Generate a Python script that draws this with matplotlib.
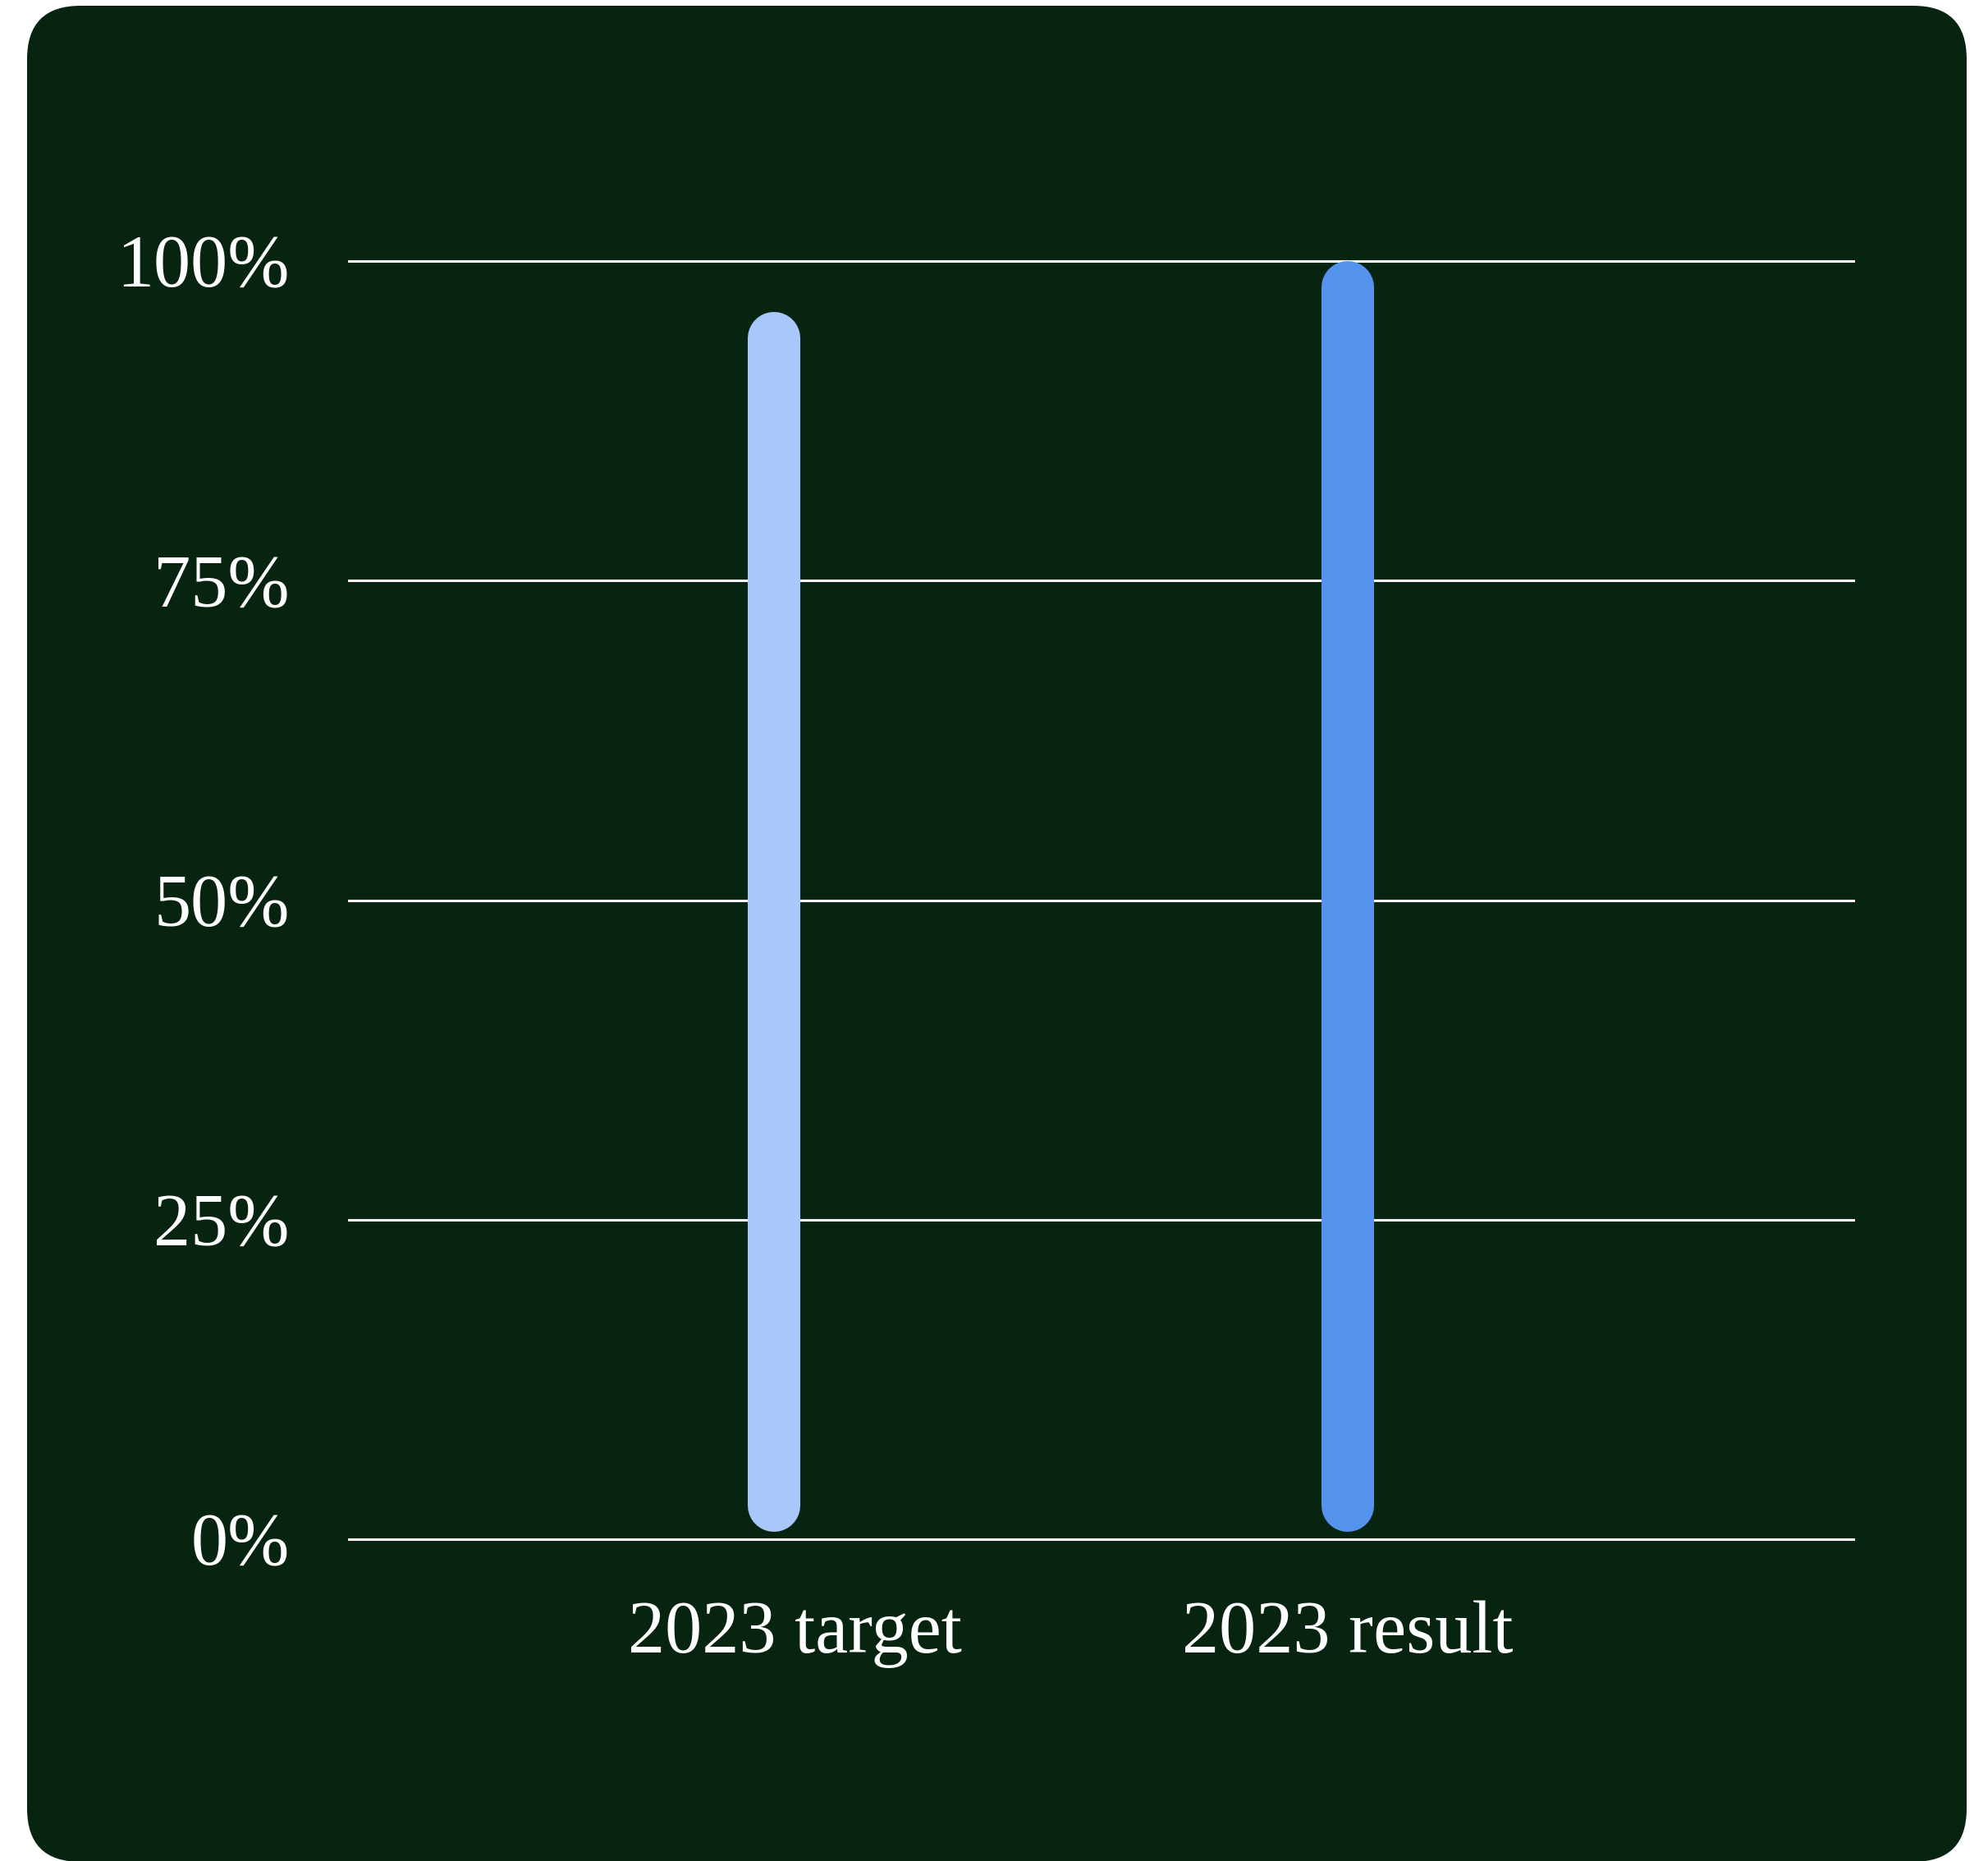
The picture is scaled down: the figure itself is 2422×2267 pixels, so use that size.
import matplotlib
matplotlib.use("Agg")
import matplotlib.pyplot as plt
import matplotlib.transforms as mtransforms
from matplotlib.patches import FancyBboxPatch

# chart data
categories = ["2023 target", "2023 result"]
values = [96, 100]
bar_colors = ["#A8C8FC", "#5494EC"]
y_ticks = [0, 25, 50, 75, 100]
y_tick_labels = ["0%", "25%", "50%", "75%", "100%"]

W, H = 2422, 2267
DPI = 100
panel_color = "#06240F"

plt.rcParams["font.family"] = ["Liberation Serif", "DejaVu Serif"]

fig = plt.figure(figsize=(W / DPI, H / DPI), dpi=DPI, facecolor="white")

# background axes in pixel units for the rounded dark panel
bg = fig.add_axes([0, 0, 1, 1], zorder=0)
bg.set_xlim(0, W)
bg.set_ylim(H, 0)
bg.axis("off")
bg.add_patch(FancyBboxPatch((33, 7), 2396 - 33, 2268 - 7,
                            boxstyle="round,pad=0,rounding_size=65",
                            facecolor=panel_color, edgecolor="none"))

# axes placed so that 0% and 100% land on the reference gridlines
left, right = 425 / W, 2258 / W
bottom, top = 1 - 1875 / H, 1 - 318 / H
ax = fig.add_axes([left, bottom, right - left, top - bottom], zorder=1)
ax.set_facecolor("none")
for s in ax.spines.values():
    s.set_visible(False)

ax.set_xlim(-0.741, 1.881)
ax.set_ylim(0, 100)

for t in y_ticks:
    ax.axhline(t, color="white", linewidth=2.2, clip_on=False, zorder=1)

# bars drawn as thick lines with round caps
lw_px = 64
lw_pt = lw_px * 72 / DPI
px_per_unit = (1875 - 318) / 100
cap = (lw_px / 2) / px_per_unit
base = 0.6
for i, (v, c) in enumerate(zip(values, bar_colors)):
    ax.plot([i, i], [base + cap, v - cap], color=c, linewidth=lw_pt,
            solid_capstyle="round", clip_on=False, zorder=2)

ax.set_yticks(y_ticks, y_tick_labels)
ax.set_xticks(range(len(categories)), categories)
ax.tick_params(axis="both", length=0, colors="white", labelsize=65)
ax.tick_params(axis="y", pad=52)
ax.tick_params(axis="x", pad=54)

# the first category label sits a little right of its bar in the reference
shift = mtransforms.ScaledTranslation(18 / 72, 0, fig.dpi_scale_trans)
ax.get_xticklabels()[0].set_transform(ax.get_xticklabels()[0].get_transform() + shift)

fig.savefig("out.png", dpi=DPI, facecolor="white")
